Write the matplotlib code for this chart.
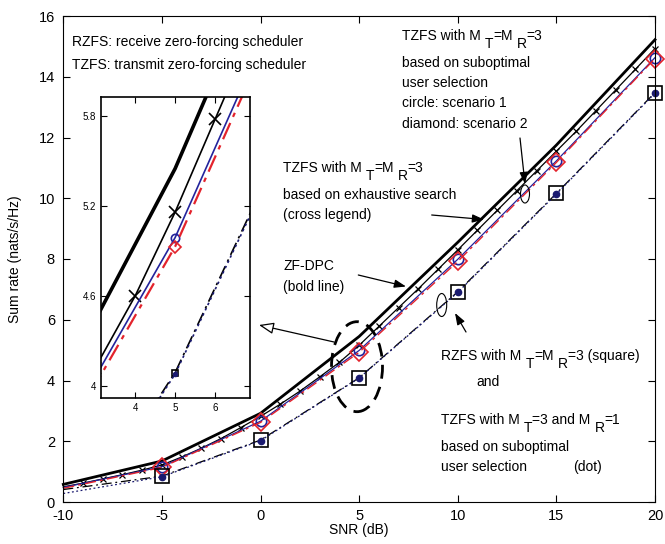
import matplotlib
matplotlib.use('Agg')
import matplotlib.pyplot as plt
from matplotlib.patches import Ellipse
from matplotlib.transforms import IdentityTransform

plt.rcParams['font.family'] = ['Liberation Sans', 'DejaVu Sans']
plt.rcParams['axes.unicode_minus'] = False
plt.rcParams['mathtext.default'] = 'regular'

# SNR grid (dB)
snr5 = [-10, -5, 0, 5, 10, 15, 20]
snr1 = list(range(-10, 21))

# sum rates (nats/s/Hz)
zf_dpc = [0.58, 1.35, 2.92, 5.45, 8.55, 11.75, 15.22]
tzfs_exh = [0.50, 0.62, 0.76, 0.90, 1.05, 1.22, 1.48, 1.77, 2.09, 2.45,
            2.82, 3.22, 3.65, 4.12, 4.60, 5.16, 5.78, 6.40, 7.02, 7.66,
            8.30, 8.95, 9.60, 10.25, 10.90, 11.55, 12.20, 12.88, 13.56, 14.24,
            14.93]
tzfs_sub1 = [0.48, 1.16, 2.66, 4.99, 7.99, 11.23, 14.63]
tzfs_sub2 = [0.45, 1.14, 2.62, 4.93, 7.92, 11.18, 14.60]
rzfs = [0.41, 0.85, 2.04, 4.09, 6.92, 10.16, 13.48]
tzfs_mr1 = [0.28, 0.83, 2.02, 4.08, 6.90, 10.14, 13.46]

BLUE = '#23239c'
RED = '#e3232c'
NAVY = '#1a1a70'

W, H = 665, 544
fig = plt.figure(figsize=(W / 100, H / 100), dpi=100)
ax = fig.add_axes([63.3 / W, 1 - 502 / H, (655 - 63.3) / W, (502 - 16) / H])


def draw_curves(a, big):
    if big:
        ms = dict(x=9, o=6, D=6, s=5, dot=3)
        lw_thin, lw_bold, lw_red = 1.2, 2.6, 1.6
    else:
        ms = dict(x=4, o=7.5, D=9, s=10, dot=4.5)
        lw_thin, lw_bold, lw_red = 0.9, 2.0, 1.0
    clip = big
    a.plot(snr5, zf_dpc, color='black', lw=lw_bold, clip_on=clip)
    a.plot(snr1, tzfs_exh, color='black', lw=lw_thin, marker='x',
           ms=ms['x'], mew=lw_thin, markevery=slice(1, None), clip_on=clip)
    a.plot(snr5, tzfs_sub1, color=BLUE, lw=lw_thin, marker='o', ms=ms['o'],
           mfc='none', mew=1.2, markevery=slice(1, None), clip_on=clip)
    a.plot(snr5, tzfs_sub2, color=RED, lw=lw_red, ls=(0, (8, 3, 2, 3)),
           marker='D', ms=ms['D'], mfc='none', mew=1.2,
           markevery=slice(1, None), clip_on=clip)
    a.plot(snr5, rzfs, color='black', lw=lw_thin, ls=(0, (8, 3, 1.5, 3)),
           marker='s', ms=ms['s'], mfc='none', mew=1.2,
           markevery=slice(1, None), clip_on=clip)
    a.plot(snr5, tzfs_mr1, color=NAVY, lw=lw_thin, ls=(0, (1.5, 2)),
           marker='o', ms=ms['dot'], mfc=NAVY, mec=NAVY,
           markevery=slice(1, None), clip_on=clip)


draw_curves(ax, False)
ax.set_xlim(-10, 20)
ax.set_ylim(0, 16)
ax.set_xticks(snr5)
ax.set_yticks(range(0, 17, 2))
ax.tick_params(direction='in', top=True, right=True, length=5, labelsize=10.5)
ax.tick_params(axis='x', pad=5)
ax.tick_params(axis='y', pad=6)
ax.set_xlabel('SNR (dB)', fontsize=10, labelpad=0)
ax.set_ylabel('Sum rate (nats/s/Hz)', fontsize=10, labelpad=12)

# inset zoom around SNR = 5 dB
axi = fig.add_axes([100.7 / W, 1 - 398 / H, 149.3 / W, 300.7 / H])
draw_curves(axi, True)
axi.set_xlim(3.14, 6.87)
axi.set_ylim(3.92, 5.925)
axi.set_xticks([4, 5, 6])
axi.set_yticks([4, 4.6, 5.2, 5.8])
axi.set_yticklabels(['4', '4.6', '5.2', '5.8'])
axi.tick_params(direction='in', top=True, right=True, length=4, labelsize=7)
for sp in axi.spines.values():
    sp.set_linewidth(1.2)


def P(x, y):
    return (x, H - y)


def label(x, y, parts, fs=10):
    # parts: (string, vertical shift in px); subscripts full size like MATLAB
    t = ax.annotate(parts[0][0], xy=P(x, y), xycoords='figure pixels',
                    va='bottom', ha='left', fontsize=fs, annotation_clip=False)
    prev_dy = parts[0][1]
    for s, dy in parts[1:]:
        dx = 3 if dy != prev_dy and dy < 0 else 0
        t = ax.annotate(s, xy=(1, 0), xycoords=t,
                        xytext=(dx, (dy - prev_dy) * 0.72),
                        textcoords='offset points', va='bottom', ha='left',
                        fontsize=fs, annotation_clip=False)
        prev_dy = dy


def mtmr(x, y, tail='=3', first='TZFS with M', mid='=M'):
    label(x, y, [(first, 0), ('T', -8), (mid, 0), ('R', -8), (tail, 0)])


label(71.7, 49, [('RZFS: receive zero-forcing scheduler', 0)])
label(71.7, 72, [('TZFS: transmit zero-forcing scheduler', 0)])

mtmr(401.7, 43)
for txt, yy in [('based on suboptimal', 70), ('user selection', 90),
                ('circle: scenario 1', 110), ('diamond: scenario 2', 131)]:
    label(401.7, yy, [(txt, 0)])

mtmr(282.7, 175)
label(282.7, 202, [('based on exhaustive search', 0)])
label(282.7, 222, [('(cross legend)', 0)])

label(283.3, 273, [('ZF-DPC', 0)])
label(283.3, 294, [('(bold line)', 0)])

mtmr(441, 363, tail='=3 (square)', first='RZFS with M')
label(476.7, 389, [('and', 0)])
label(441, 427, [('TZFS with M', 0), ('T', -8), ('=3 and M', 0), ('R', -8),
                 ('=1', 0)])
label(441, 454, [('based on suboptimal', 0)])
label(441, 474, [('user selection', 0)])
label(573.3, 474, [('(dot)', 0)])

# arrows
solid = dict(arrowstyle='-|>,head_length=0.7,head_width=0.25', color='black',
             lw=0.9, shrinkA=0, shrinkB=0)
for (x0, y0), (x1, y1) in [((520, 138), (525, 184)),
                           ((431.7, 215), (484, 219.5)),
                           ((358.3, 275), (406, 286.5)),
                           ((466, 332), (455, 313))]:
    ax.annotate('', xy=P(x1, y1), xytext=P(x0, y0), xycoords='figure pixels',
                textcoords='figure pixels', arrowprops=solid,
                annotation_clip=False)
ax.annotate('', xy=P(259, 325), xytext=P(334, 342), xycoords='figure pixels',
            textcoords='figure pixels', annotation_clip=False,
            arrowprops=dict(arrowstyle='-|>,head_length=0.9,head_width=0.35',
                            fc='white', ec='black', lw=0.9,
                            shrinkA=0, shrinkB=0))

# ellipses marking curve groups
for (cx, cy), w, h, lw, ls in [((525, 194), 9, 18, 0.8, '-'),
                               ((441.7, 305), 10, 23, 0.8, '-'),
                               ((357, 366.7), 51, 90, 2.0, (0, (5, 3)))]:
    e = Ellipse(P(cx, cy), w, h, transform=IdentityTransform(), fill=False,
                ec='black', lw=lw, ls=ls, clip_on=False)
    fig.add_artist(e)

fig.savefig('out.png', dpi=100)
